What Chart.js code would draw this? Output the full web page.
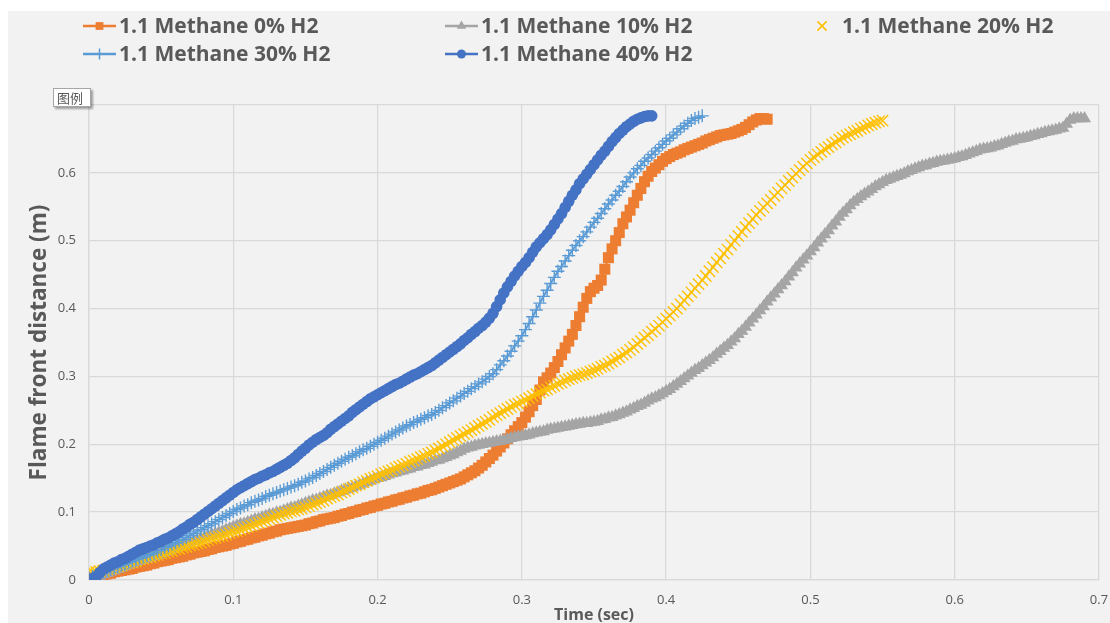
<!DOCTYPE html>
<html>
<head>
<meta charset="utf-8">
<script src="https://cdn.jsdelivr.net/npm/chart.js@4.4.1/dist/chart.umd.min.js"></script>
<style>
  html, body { margin: 0; padding: 0; background: #fff; }
  #wrap { width: 1110px; height: 623px; }
</style>
</head>
<body>
<div id="wrap"><canvas id="flame" width="1110" height="623"></canvas></div>
<script>
// camera frame times (s), shared by every run; each run stops where its flame hit the end
const timeSec = [
  0.0000, 0.0025, 0.0050, 0.0075, 0.0100, 0.0125, 0.0150, 0.0175,
  0.0200, 0.0225, 0.0250, 0.0275, 0.0300, 0.0325, 0.0350, 0.0375,
  0.0400, 0.0425, 0.0450, 0.0475, 0.0500, 0.0525, 0.0550, 0.0575,
  0.0600, 0.0625, 0.0650, 0.0675, 0.0700, 0.0725, 0.0750, 0.0775,
  0.0800, 0.0825, 0.0850, 0.0875, 0.0900, 0.0925, 0.0950, 0.0975,
  0.1000, 0.1025, 0.1050, 0.1075, 0.1100, 0.1125, 0.1150, 0.1175,
  0.1200, 0.1225, 0.1250, 0.1275, 0.1300, 0.1325, 0.1350, 0.1375,
  0.1400, 0.1425, 0.1450, 0.1475, 0.1500, 0.1525, 0.1550, 0.1575,
  0.1600, 0.1625, 0.1650, 0.1675, 0.1700, 0.1725, 0.1750, 0.1775,
  0.1800, 0.1825, 0.1850, 0.1875, 0.1900, 0.1925, 0.1950, 0.1975,
  0.2000, 0.2025, 0.2050, 0.2075, 0.2100, 0.2125, 0.2150, 0.2175,
  0.2200, 0.2225, 0.2250, 0.2275, 0.2300, 0.2325, 0.2350, 0.2375,
  0.2400, 0.2425, 0.2450, 0.2475, 0.2500, 0.2525, 0.2550, 0.2575,
  0.2600, 0.2625, 0.2650, 0.2675, 0.2700, 0.2725, 0.2750, 0.2775,
  0.2800, 0.2825, 0.2850, 0.2875, 0.2900, 0.2925, 0.2950, 0.2975,
  0.3000, 0.3025, 0.3050, 0.3075, 0.3100, 0.3125, 0.3150, 0.3175,
  0.3200, 0.3225, 0.3250, 0.3275, 0.3300, 0.3325, 0.3350, 0.3375,
  0.3400, 0.3425, 0.3450, 0.3475, 0.3500, 0.3525, 0.3550, 0.3575,
  0.3600, 0.3625, 0.3650, 0.3675, 0.3700, 0.3725, 0.3750, 0.3775,
  0.3800, 0.3825, 0.3850, 0.3875, 0.3900, 0.3925, 0.3950, 0.3975,
  0.4000, 0.4025, 0.4050, 0.4075, 0.4100, 0.4125, 0.4150, 0.4175,
  0.4200, 0.4225, 0.4250, 0.4275, 0.4300, 0.4325, 0.4350, 0.4375,
  0.4400, 0.4425, 0.4450, 0.4475, 0.4500, 0.4525, 0.4550, 0.4575,
  0.4600, 0.4625, 0.4650, 0.4675, 0.4700, 0.4725, 0.4750, 0.4775,
  0.4800, 0.4825, 0.4850, 0.4875, 0.4900, 0.4925, 0.4950, 0.4975,
  0.5000, 0.5025, 0.5050, 0.5075, 0.5100, 0.5125, 0.5150, 0.5175,
  0.5200, 0.5225, 0.5250, 0.5275, 0.5300, 0.5325, 0.5350, 0.5375,
  0.5400, 0.5425, 0.5450, 0.5475, 0.5500, 0.5525, 0.5550, 0.5575,
  0.5600, 0.5625, 0.5650, 0.5675, 0.5700, 0.5725, 0.5750, 0.5775,
  0.5800, 0.5825, 0.5850, 0.5875, 0.5900, 0.5925, 0.5950, 0.5975,
  0.6000, 0.6025, 0.6050, 0.6075, 0.6100, 0.6125, 0.6150, 0.6175,
  0.6200, 0.6225, 0.6250, 0.6275, 0.6300, 0.6325, 0.6350, 0.6375,
  0.6400, 0.6425, 0.6450, 0.6475, 0.6500, 0.6525, 0.6550, 0.6575,
  0.6600, 0.6625, 0.6650, 0.6675, 0.6700, 0.6725, 0.6750, 0.6775,
  0.6800, 0.6825, 0.6850, 0.6875, 0.6900
];

// flame front distance (m), one row per 0.02 s
const h2_0 = [
  0.002, 0.003, 0.005, 0.007, 0.008, 0.009, 0.010, 0.012,
  0.013, 0.014, 0.015, 0.016, 0.017, 0.019, 0.020, 0.021,
  0.022, 0.024, 0.025, 0.027, 0.028, 0.029, 0.030, 0.032,
  0.033, 0.034, 0.035, 0.037, 0.038, 0.040, 0.041, 0.042,
  0.043, 0.045, 0.046, 0.048, 0.049, 0.050, 0.051, 0.053,
  0.054, 0.056, 0.057, 0.059, 0.060, 0.062, 0.063, 0.065,
  0.066, 0.068, 0.069, 0.071, 0.072, 0.074, 0.075, 0.076,
  0.077, 0.078, 0.079, 0.080, 0.081, 0.083, 0.084, 0.086,
  0.087, 0.089, 0.090, 0.091, 0.092, 0.094, 0.095, 0.097,
  0.098, 0.100, 0.101, 0.103, 0.104, 0.106, 0.107, 0.109,
  0.110, 0.112, 0.113, 0.115, 0.116, 0.118, 0.119, 0.121,
  0.122, 0.124, 0.125, 0.127, 0.128, 0.130, 0.132, 0.133,
  0.135, 0.137, 0.139, 0.141, 0.143, 0.145, 0.147, 0.149,
  0.152, 0.155, 0.158, 0.161, 0.165, 0.169, 0.174, 0.179,
  0.184, 0.190, 0.196, 0.202, 0.208, 0.214, 0.220, 0.226,
  0.232, 0.240, 0.248, 0.257, 0.266, 0.280, 0.292, 0.298,
  0.305, 0.313, 0.322, 0.332, 0.342, 0.352, 0.362, 0.375,
  0.388, 0.402, 0.415, 0.425, 0.430, 0.434, 0.442, 0.458,
  0.475, 0.488, 0.500, 0.512, 0.525, 0.535, 0.545, 0.556,
  0.567, 0.577, 0.587, 0.595, 0.602, 0.607, 0.612, 0.617,
  0.621, 0.624, 0.627, 0.629, 0.631, 0.634, 0.636, 0.638,
  0.640, 0.642, 0.644, 0.647, 0.649, 0.651, 0.653, 0.655,
  0.656, 0.657, 0.658, 0.660, 0.662, 0.664, 0.667, 0.671,
  0.675, 0.678, 0.680, 0.680, 0.679
];
const h2_10 = [
  0.000, 0.002, 0.004, 0.006, 0.008, 0.010, 0.012, 0.014,
  0.016, 0.018, 0.020, 0.022, 0.024, 0.026, 0.028, 0.030,
  0.031, 0.033, 0.035, 0.037, 0.039, 0.041, 0.043, 0.045,
  0.047, 0.049, 0.051, 0.053, 0.055, 0.057, 0.059, 0.061,
  0.063, 0.065, 0.067, 0.068, 0.070, 0.072, 0.074, 0.076,
  0.078, 0.080, 0.082, 0.083, 0.085, 0.087, 0.089, 0.090,
  0.092, 0.094, 0.096, 0.097, 0.099, 0.100, 0.102, 0.104,
  0.106, 0.107, 0.109, 0.111, 0.113, 0.115, 0.117, 0.118,
  0.120, 0.122, 0.124, 0.125, 0.127, 0.129, 0.131, 0.133,
  0.135, 0.136, 0.138, 0.140, 0.142, 0.144, 0.146, 0.148,
  0.150, 0.151, 0.153, 0.155, 0.157, 0.158, 0.160, 0.161,
  0.163, 0.164, 0.166, 0.167, 0.169, 0.170, 0.172, 0.174,
  0.176, 0.177, 0.179, 0.181, 0.183, 0.185, 0.188, 0.190,
  0.193, 0.195, 0.196, 0.198, 0.199, 0.200, 0.201, 0.202,
  0.203, 0.204, 0.205, 0.206, 0.207, 0.209, 0.210, 0.211,
  0.212, 0.213, 0.214, 0.216, 0.217, 0.218, 0.219, 0.221,
  0.222, 0.223, 0.224, 0.225, 0.226, 0.227, 0.228, 0.229,
  0.230, 0.231, 0.231, 0.232, 0.233, 0.234, 0.236, 0.237,
  0.239, 0.240, 0.242, 0.244, 0.246, 0.248, 0.251, 0.253,
  0.256, 0.258, 0.261, 0.264, 0.267, 0.269, 0.272, 0.275,
  0.278, 0.281, 0.285, 0.289, 0.293, 0.297, 0.301, 0.305,
  0.309, 0.312, 0.316, 0.320, 0.324, 0.328, 0.333, 0.337,
  0.342, 0.346, 0.351, 0.356, 0.362, 0.367, 0.373, 0.379,
  0.385, 0.391, 0.397, 0.403, 0.410, 0.416, 0.422, 0.428,
  0.434, 0.440, 0.447, 0.453, 0.460, 0.466, 0.472, 0.478,
  0.484, 0.490, 0.497, 0.503, 0.509, 0.515, 0.522, 0.528,
  0.535, 0.541, 0.546, 0.552, 0.557, 0.561, 0.565, 0.569,
  0.572, 0.576, 0.580, 0.583, 0.586, 0.589, 0.591, 0.593,
  0.595, 0.597, 0.599, 0.602, 0.604, 0.606, 0.608, 0.610,
  0.611, 0.613, 0.614, 0.616, 0.617, 0.618, 0.619, 0.620,
  0.621, 0.623, 0.624, 0.626, 0.628, 0.630, 0.632, 0.634,
  0.635, 0.636, 0.637, 0.639, 0.640, 0.642, 0.644, 0.646,
  0.647, 0.649, 0.650, 0.651, 0.652, 0.654, 0.655, 0.657,
  0.658, 0.660, 0.661, 0.662, 0.663, 0.665, 0.666, 0.672,
  0.678, 0.680, 0.680, 0.680, 0.680
];
const h2_20 = [
  0.012, 0.012, 0.012, 0.013, 0.014, 0.016, 0.017, 0.019,
  0.020, 0.022, 0.023, 0.025, 0.026, 0.028, 0.030, 0.031,
  0.033, 0.034, 0.036, 0.037, 0.039, 0.040, 0.042, 0.043,
  0.045, 0.046, 0.048, 0.049, 0.051, 0.052, 0.054, 0.055,
  0.057, 0.059, 0.061, 0.062, 0.064, 0.065, 0.067, 0.069,
  0.071, 0.072, 0.074, 0.076, 0.078, 0.080, 0.082, 0.084,
  0.086, 0.088, 0.090, 0.092, 0.094, 0.096, 0.098, 0.099,
  0.101, 0.102, 0.104, 0.105, 0.107, 0.109, 0.111, 0.113,
  0.115, 0.117, 0.120, 0.122, 0.124, 0.126, 0.129, 0.131,
  0.134, 0.136, 0.139, 0.141, 0.144, 0.146, 0.149, 0.151,
  0.153, 0.156, 0.158, 0.160, 0.162, 0.165, 0.167, 0.169,
  0.171, 0.174, 0.176, 0.178, 0.181, 0.183, 0.186, 0.188,
  0.191, 0.194, 0.197, 0.200, 0.203, 0.206, 0.209, 0.212,
  0.215, 0.218, 0.221, 0.224, 0.227, 0.230, 0.233, 0.236,
  0.240, 0.243, 0.246, 0.249, 0.252, 0.255, 0.258, 0.260,
  0.263, 0.265, 0.268, 0.271, 0.274, 0.276, 0.279, 0.281,
  0.284, 0.286, 0.289, 0.291, 0.294, 0.296, 0.298, 0.300,
  0.302, 0.303, 0.305, 0.307, 0.309, 0.311, 0.314, 0.316,
  0.319, 0.322, 0.325, 0.328, 0.332, 0.335, 0.339, 0.343,
  0.348, 0.352, 0.357, 0.361, 0.366, 0.370, 0.375, 0.380,
  0.385, 0.390, 0.395, 0.400, 0.406, 0.412, 0.418, 0.424,
  0.430, 0.436, 0.442, 0.448, 0.455, 0.461, 0.468, 0.474,
  0.481, 0.487, 0.494, 0.500, 0.507, 0.513, 0.520, 0.526,
  0.532, 0.538, 0.544, 0.549, 0.555, 0.560, 0.566, 0.571,
  0.577, 0.582, 0.588, 0.593, 0.599, 0.604, 0.609, 0.614,
  0.619, 0.623, 0.627, 0.631, 0.635, 0.638, 0.642, 0.645,
  0.649, 0.652, 0.655, 0.657, 0.660, 0.662, 0.665, 0.667,
  0.670, 0.672, 0.674, 0.676, 0.677
];
const h2_30 = [
  0.003, 0.005, 0.007, 0.010, 0.012, 0.014, 0.016, 0.018,
  0.020, 0.022, 0.024, 0.026, 0.028, 0.030, 0.032, 0.034,
  0.036, 0.038, 0.040, 0.043, 0.045, 0.048, 0.050, 0.053,
  0.055, 0.058, 0.060, 0.063, 0.066, 0.069, 0.072, 0.074,
  0.077, 0.080, 0.083, 0.086, 0.089, 0.092, 0.095, 0.098,
  0.101, 0.104, 0.106, 0.109, 0.111, 0.114, 0.116, 0.118,
  0.120, 0.123, 0.125, 0.127, 0.129, 0.131, 0.133, 0.135,
  0.137, 0.139, 0.141, 0.144, 0.146, 0.149, 0.151, 0.154,
  0.157, 0.160, 0.163, 0.166, 0.169, 0.172, 0.175, 0.178,
  0.181, 0.183, 0.186, 0.189, 0.192, 0.194, 0.197, 0.200,
  0.203, 0.206, 0.209, 0.212, 0.215, 0.218, 0.221, 0.224,
  0.227, 0.229, 0.232, 0.234, 0.237, 0.239, 0.242, 0.244,
  0.247, 0.250, 0.254, 0.257, 0.261, 0.264, 0.268, 0.271,
  0.275, 0.278, 0.282, 0.285, 0.289, 0.292, 0.296, 0.300,
  0.304, 0.310, 0.317, 0.323, 0.330, 0.337, 0.345, 0.352,
  0.360, 0.369, 0.378, 0.388, 0.398, 0.408, 0.418, 0.427,
  0.437, 0.446, 0.455, 0.462, 0.470, 0.478, 0.486, 0.493,
  0.500, 0.506, 0.513, 0.520, 0.527, 0.533, 0.540, 0.547,
  0.554, 0.560, 0.567, 0.573, 0.580, 0.587, 0.594, 0.600,
  0.606, 0.611, 0.617, 0.622, 0.627, 0.632, 0.637, 0.642,
  0.647, 0.651, 0.656, 0.660, 0.665, 0.669, 0.673, 0.677,
  0.680, 0.682, 0.684
];
const h2_40 = [
  0.000, 0.002, 0.005, 0.011, 0.016, 0.019, 0.022, 0.025,
  0.027, 0.030, 0.032, 0.035, 0.038, 0.041, 0.044, 0.046,
  0.048, 0.050, 0.052, 0.055, 0.057, 0.060, 0.062, 0.065,
  0.068, 0.071, 0.075, 0.078, 0.082, 0.085, 0.089, 0.093,
  0.097, 0.101, 0.105, 0.109, 0.113, 0.117, 0.121, 0.125,
  0.129, 0.133, 0.136, 0.139, 0.142, 0.145, 0.148, 0.150,
  0.153, 0.155, 0.158, 0.160, 0.163, 0.166, 0.169, 0.172,
  0.176, 0.180, 0.185, 0.190, 0.194, 0.199, 0.203, 0.207,
  0.210, 0.213, 0.217, 0.222, 0.226, 0.230, 0.234, 0.238,
  0.242, 0.247, 0.251, 0.255, 0.259, 0.263, 0.267, 0.270,
  0.273, 0.276, 0.279, 0.282, 0.285, 0.288, 0.290, 0.293,
  0.296, 0.299, 0.302, 0.304, 0.307, 0.310, 0.313, 0.316,
  0.320, 0.324, 0.328, 0.332, 0.336, 0.340, 0.344, 0.348,
  0.353, 0.357, 0.362, 0.366, 0.371, 0.375, 0.380, 0.386,
  0.393, 0.403, 0.413, 0.423, 0.432, 0.440, 0.448, 0.455,
  0.462, 0.468, 0.475, 0.483, 0.491, 0.497, 0.503, 0.509,
  0.516, 0.524, 0.532, 0.540, 0.549, 0.558, 0.567, 0.575,
  0.584, 0.591, 0.598, 0.605, 0.612, 0.619, 0.626, 0.632,
  0.639, 0.646, 0.652, 0.658, 0.663, 0.668, 0.672, 0.676,
  0.679, 0.681, 0.683, 0.684, 0.684
];

const seriesNames = [
  "1.1 Methane 0% H2", "1.1 Methane 10% H2", "1.1 Methane 20% H2",
  "1.1 Methane 30% H2", "1.1 Methane 40% H2"
];
const seriesValues = [h2_0, h2_10, h2_20, h2_30, h2_40];
const seriesColors = ["#ED7D31", "#A5A5A5", "#FFC000", "#5B9BD5", "#4472C4"];
const markerStyles = ["rect", "triangle", "crossRot", "cross", "circle"];
const markerRadius = [7.8, 7.5, 8, 6.5, 5.8];
const legendRadius = [5.5, 5.5, 6.5, 5.5, 4.5];
const hasLine = [true, true, false, true, true];

const xTickMax = 0.7;
const yTickMax = 0.7;

const textGrey = "#595959";
const gridGrey = "#D9D9D9";
const font = "'Open Sans', 'DejaVu Sans', sans-serif";

function toPoints(values) {
  return values.map(function (v, i) { return { x: timeSec[i], y: v }; });
}

function isCrossStyle(style) {
  return style === "cross" || style === "crossRot";
}

const datasets = seriesNames.map(function (name, i) {
  return {
    label: name,
    data: toPoints(seriesValues[i]),
    showLine: hasLine[i],
    borderColor: seriesColors[i],
    backgroundColor: seriesColors[i],
    borderWidth: 2,
    pointStyle: markerStyles[i],
    pointRadius: markerRadius[i],
    pointBorderWidth: isCrossStyle(markerStyles[i]) ? 1.4 : 0,
    pointBackgroundColor: seriesColors[i],
    pointBorderColor: seriesColors[i],
    pointHoverRadius: markerRadius[i],
    // later series are painted over earlier ones
    order: seriesNames.length - i,
  };
});

// white strip at the top/left, light grey chart background
const backdrop = {
  id: "backdrop",
  beforeDraw: function (chart) {
    const ctx = chart.ctx;
    ctx.save();
    ctx.fillStyle = "#FFFFFF";
    ctx.fillRect(0, 0, chart.width, chart.height);
    ctx.fillStyle = "#F2F2F2";
    ctx.fillRect(8, 11, chart.width - 8, chart.height - 11);
    ctx.restore();
  },
};

// three-column legend above the plot plus the little "图例" tag
const legendSlots = [
  { line: [83, 116], text: 119, y: 26 },
  { line: [445, 478], text: 481, y: 26 },
  { line: [812, 832], text: 842, y: 26 },
  { line: [83, 116], text: 119, y: 54 },
  { line: [445, 478], text: 481, y: 54 },
];
const sideLegend = {
  id: "sideLegend",
  afterDraw: function (chart) {
    const ctx = chart.ctx;
    ctx.save();
    legendSlots.forEach(function (slot, i) {
      const cx = (slot.line[0] + slot.line[1]) / 2;
      const cross = isCrossStyle(markerStyles[i]);
      ctx.strokeStyle = seriesColors[i];
      ctx.fillStyle = seriesColors[i];
      if (hasLine[i]) {
        ctx.lineWidth = 2.5;
        ctx.beginPath();
        ctx.moveTo(slot.line[0], slot.y);
        ctx.lineTo(slot.line[1], slot.y);
        ctx.stroke();
      }
      ctx.lineWidth = cross ? 1.5 : 0;
      Chart.helpers.drawPoint(ctx, {
        pointStyle: markerStyles[i],
        radius: legendRadius[i],
        rotation: 0,
        borderWidth: cross ? 1.5 : 0,
      }, cx, slot.y);
      ctx.fillStyle = textGrey;
      ctx.font = "bold 21px " + font;
      ctx.textAlign = "left";
      ctx.textBaseline = "middle";
      ctx.fillText(seriesNames[i], slot.text, slot.y + 1);
    });

    ctx.shadowColor = "rgba(0,0,0,0.35)";
    ctx.shadowOffsetX = 2;
    ctx.shadowOffsetY = 2;
    ctx.shadowBlur = 2;
    ctx.fillStyle = "#FFFFFF";
    ctx.fillRect(53, 88, 38, 19);
    ctx.shadowColor = "transparent";
    ctx.strokeStyle = "#A6A6A6";
    ctx.lineWidth = 1;
    ctx.strokeRect(53.5, 88.5, 37, 18);
    ctx.fillStyle = textGrey;
    ctx.font = "13px 'Noto Sans CJK SC', sans-serif";
    ctx.textBaseline = "middle";
    ctx.fillText("图例", 57, 98);
    ctx.restore();
  },
};

function oneDecimal(v) {
  return String(Number(v.toFixed(1)));
}

new Chart(document.getElementById("flame"), {
  type: "scatter",
  data: { datasets: datasets },
  options: {
    responsive: false,
    animation: false,
    events: [],
    layout: { padding: { top: 105, right: 11, left: 0, bottom: 0 } },
    plugins: {
      legend: { display: false },
      tooltip: { enabled: false },
    },
    scales: {
      x: {
        type: "linear",
        min: 0,
        max: xTickMax,
        afterFit: function (scale) {
          scale.height = 43;
          scale.paddingLeft = 0;
          scale.paddingRight = 0;
        },
        ticks: {
          stepSize: 0.1,
          color: textGrey,
          font: { family: font, size: 13 },
          padding: 12,
          maxRotation: 0,
          callback: oneDecimal,
        },
        grid: { color: gridGrey, lineWidth: 1.3, drawTicks: false },
        border: { color: gridGrey, width: 1.3 },
        title: {
          display: true,
          text: "Time (sec)",
          color: textGrey,
          font: { family: font, size: 16, weight: "bold", lineHeight: 1 },
          padding: { top: 0, bottom: 0 },
        },
      },
      y: {
        type: "linear",
        min: 0,
        max: yTickMax,
        afterFit: function (scale) {
          scale.width = 89;
          scale.paddingTop = 0;
          scale.paddingBottom = 0;
        },
        ticks: {
          stepSize: 0.1,
          color: textGrey,
          font: { family: font, size: 13 },
          padding: 13,
          callback: function (v) { return v > 0.65 ? "" : oneDecimal(v); },
        },
        grid: { color: gridGrey, lineWidth: 1.3, drawTicks: false },
        border: { color: gridGrey, width: 1.3 },
        title: {
          display: true,
          text: "Flame front distance (m)",
          color: textGrey,
          font: { family: font, size: 22.5, weight: "bold" },
          padding: { top: 26, bottom: 0 },
        },
      },
    },
  },
  plugins: [backdrop, sideLegend],
});
</script>
</body>
</html>
